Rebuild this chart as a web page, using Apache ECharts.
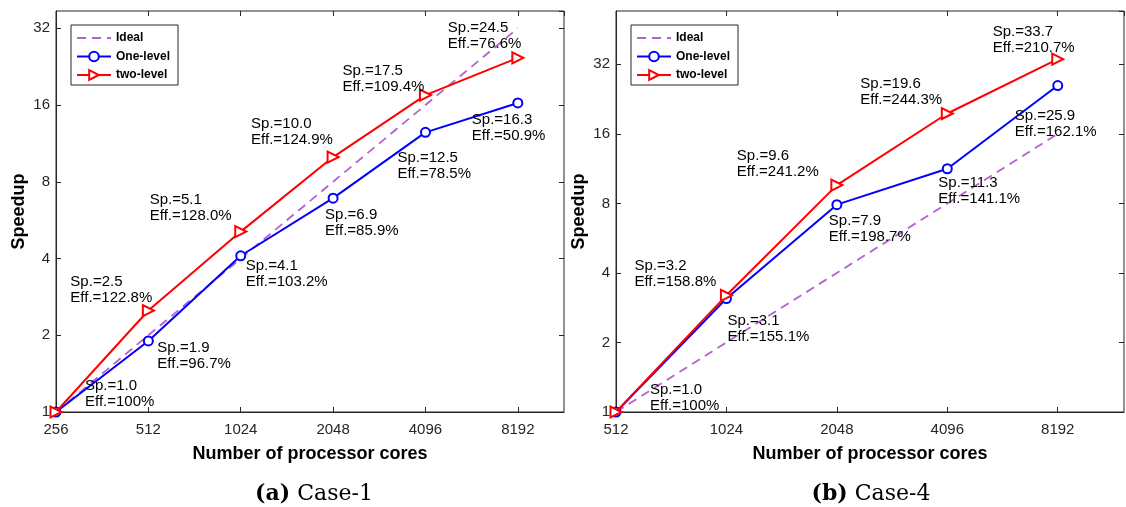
<!DOCTYPE html>
<html>
<head>
<meta charset="utf-8">
<script src="https://cdn.jsdelivr.net/npm/echarts@6/dist/echarts.min.js"></script>
<style>
  html, body { margin: 0; padding: 0; background: #fff; }
  #chart { width: 1126px; height: 507px; }
</style>
</head>
<body>
<div id="chart"></div>
<script>
// Case-1 (a)
var coresA = [256, 512, 1024, 2048, 4096, 8192]
var idealA = [1, 2, 4, 8, 16, 32]
var oneLevelA = [1.0, 1.9, 4.1, 6.9, 12.5, 16.3]
var twoLevelA = [1.0, 2.5, 5.1, 10.0, 17.5, 24.5]
var oneEffA = ['100%', '96.7%', '103.2%', '85.9%', '78.5%', '50.9%']
var twoEffA = [null, '122.8%', '128.0%', '124.9%', '109.4%', '76.6%']

// Case-4 (b)
var coresB = [512, 1024, 2048, 4096, 8192]
var idealB = [1, 2, 4, 8, 16]
var oneLevelB = [1.0, 3.1, 7.9, 11.3, 25.9]
var twoLevelB = [1.0, 3.2, 9.6, 19.6, 33.7]
var oneEffB = ['100%', '155.1%', '198.7%', '141.1%', '162.1%']
var twoEffB = [null, '158.8%', '241.2%', '244.3%', '210.7%']

// where the annotation text sits relative to each point (px)
var oneOffA = [[29, -34], [9, -1], [5, 2], [-8, 9], [-28, 18], [-46, 9]]
var twoOffA = [null, [-78, -37], [-91, -40], [-82, -41], [-83, -32], [-70, -38]]
var oneOffB = [[34, -30], [1, 14], [-8, 8], [-9, 6], [-43, 22]]
var twoOffB = [null, [-92, -37], [-100, -37], [-87, -38], [-65, -35]]

var AXIS = '#262626'
var FONT = '"Liberation Sans", Arial, Helvetica, sans-serif'
var SERIF = '"DejaVu Serif", "Liberation Serif", serif'

function pow2Label (v) {
  var l = Math.log2(v)
  if (Math.abs(l - Math.round(l)) > 1e-6) return ''
  return String(Math.round(v))
}

function points (xs, ys, effs, offs) {
  return xs.map(function (x, i) {
    var item = { value: [x, ys[i]] }
    if (effs && effs[i]) {
      item.label = {
        show: true,
        offset: offs[i],
        formatter: 'Sp.=' + ys[i].toFixed(1) + '\nEff.=' + effs[i]
      }
    }
    return item
  })
}

function makeAxes (gi, xmin, xmax, ymax) {
  var tick = { show: true, inside: true, length: 5, lineStyle: { color: AXIS, width: 1 } }
  var nameStyle = { color: '#000', fontSize: 18, fontWeight: 'bold', fontFamily: FONT }
  var xs = [
    {
      type: 'log', logBase: 2, gridIndex: gi, min: xmin, max: xmax,
      axisLine: { show: true, lineStyle: { color: AXIS, width: 1 } },
      axisTick: tick,
      splitLine: { show: false },
      axisLabel: { color: AXIS, fontSize: 15, fontFamily: FONT, margin: 10, formatter: pow2Label, showMaxLabel: false },
      name: 'Number of processor cores',
      nameLocation: 'middle',
      nameGap: 33,
      nameTextStyle: nameStyle
    },
    {
      type: 'log', logBase: 2, gridIndex: gi, min: xmin, max: xmax, position: 'top',
      axisLine: { show: false }, axisTick: tick, axisLabel: { show: false }, splitLine: { show: false }
    }
  ]
  var ys = [
    {
      type: 'log', logBase: 2, gridIndex: gi, min: 1, max: ymax,
      axisLine: { show: true, lineStyle: { color: AXIS, width: 1 } },
      axisTick: tick,
      splitLine: { show: false },
      axisLabel: { color: AXIS, fontSize: 15, fontFamily: FONT, margin: 6, formatter: pow2Label, showMaxLabel: false },
      name: 'Speedup',
      nameLocation: 'middle',
      nameGap: 28,
      nameTextStyle: nameStyle
    },
    {
      type: 'log', logBase: 2, gridIndex: gi, min: 1, max: ymax, position: 'right',
      axisLine: { show: false }, axisTick: tick, axisLabel: { show: false }, splitLine: { show: false }
    }
  ]
  return { x: xs, y: ys }
}

function makeSeries (gi, cores, ideal, one, two, oneEff, twoEff, oneOff, twoOff) {
  var label = {
    position: 'inside', align: 'left', verticalAlign: 'top',
    color: '#000', fontSize: 15, lineHeight: 16, fontFamily: FONT
  }
  return [
    {
      name: 'Ideal', type: 'line', xAxisIndex: gi * 2, yAxisIndex: gi * 2,
      data: points(cores, ideal), symbol: 'none',
      lineStyle: { color: '#b65fd3', width: 1.8, type: [9, 6] },
      itemStyle: { color: '#b65fd3' }, z: 2
    },
    {
      name: 'One-level', type: 'line', xAxisIndex: gi * 2, yAxisIndex: gi * 2,
      data: points(cores, one, oneEff, oneOff), symbol: 'circle', symbolSize: 9,
      lineStyle: { color: '#0000ff', width: 2 },
      itemStyle: { color: '#fff', borderColor: '#0000ff', borderWidth: 2 },
      label: label, z: 3
    },
    {
      name: 'two-level', type: 'line', xAxisIndex: gi * 2, yAxisIndex: gi * 2,
      data: points(cores, two, twoEff, twoOff), symbol: 'triangle', symbolSize: 11, symbolRotate: -90,
      lineStyle: { color: '#ff0000', width: 2 },
      itemStyle: { color: '#fff', borderColor: '#ff0000', borderWidth: 2 },
      label: label, z: 4
    }
  ]
}

var axA = makeAxes(0, 256, Math.pow(2, 13.5), Math.pow(2, 5.225))
var axB = makeAxes(1, 512, Math.pow(2, 13.6), Math.pow(2, 5.767))

function legendAt (left) {
  return {
    orient: 'vertical', left: left, top: 25,
    data: [
      { name: 'Ideal', itemStyle: { color: 'rgba(0,0,0,0)', borderWidth: 0, opacity: 0 } },
      'One-level',
      'two-level'
    ],
    backgroundColor: '#fff', borderColor: AXIS, borderWidth: 1,
    padding: [7, 8, 4, 5], itemWidth: 34, itemHeight: 12, itemGap: 6.5,
    textStyle: { fontSize: 12, fontWeight: 'bold', color: '#000', fontFamily: FONT },
    selectedMode: false
  }
}

function caption (tag, text, x) {
  return {
    text: '{b|' + tag + '} ' + text, left: x, top: 478, textAlign: 'center',
    textStyle: {
      fontSize: 22, fontWeight: 'normal', color: '#000', fontFamily: SERIF,
      rich: { b: { fontSize: 22, fontWeight: 'bold', fontFamily: SERIF } }
    }
  }
}

var chart = echarts.init(document.getElementById('chart'))
chart.setOption({
  animation: false,
  backgroundColor: '#fff',
  grid: [
    { left: 56, top: 11, width: 508, height: 401, show: true, borderColor: AXIS, borderWidth: 1, backgroundColor: 'transparent' },
    { left: 616, top: 11, width: 508, height: 401, show: true, borderColor: AXIS, borderWidth: 1, backgroundColor: 'transparent' }
  ],
  xAxis: axA.x.concat(axB.x),
  yAxis: axA.y.concat(axB.y),
  legend: [legendAt(71), legendAt(631)],
  title: [caption('(a)', 'Case-1', 309), caption('(b)', 'Case-4', 866)],
  series: makeSeries(0, coresA, idealA, oneLevelA, twoLevelA, oneEffA, twoEffA, oneOffA, twoOffA)
    .concat(makeSeries(1, coresB, idealB, oneLevelB, twoLevelB, oneEffB, twoEffB, oneOffB, twoOffB))
})
</script>
</body>
</html>
